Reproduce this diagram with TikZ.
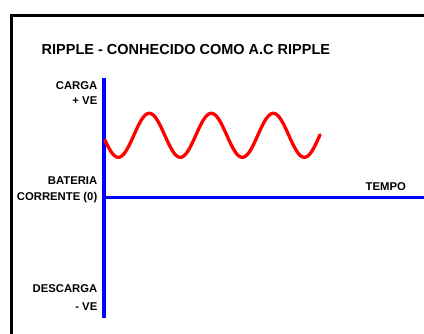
\documentclass[tikz,border=0pt]{standalone}
\usepackage{fontspec}
\setmainfont{Liberation Sans}
\begin{document}
\begin{tikzpicture}[x=1pt,y=-1pt,
  lbl/.style={font=\fontsize{11.3}{13}\selectfont\bfseries, inner sep=0pt, anchor=east},
  ttl/.style={font=\fontsize{14.5}{16}\selectfont\bfseries, inner sep=0pt, anchor=west},
  axis/.style={draw={rgb,255:red,0;green,0;blue,255}, line width=4pt},
  frame/.style={draw=black, line width=3pt},
  wave/.style={draw={rgb,255:red,255;green,0;blue,0}, line width=3.3pt, line cap=round}]
\useasboundingbox (0,0) rectangle (424,333);
% frame
\coordinate (fbl) at (11.5,340);
\coordinate (ftl) at (11.5,15.3);
\coordinate (ftr) at (430,15.3);
\draw[frame] (fbl) -- (ftl) -- (ftr);
% axes
\coordinate (vtop) at (104,78);
\coordinate (vbot) at (104,318);
\coordinate (h0) at (104,197.5);
\coordinate (hend) at (426,197.5);
\draw[axis] (vtop) -- (vbot);
\draw[axis, line width=3.7pt] (h0) -- (hend);
% title
\node[ttl] (title) at (41.5,50) {RIPPLE - CONHECIDO COMO A.C RIPPLE};
% labels
\node[lbl] (carga) at (97.5,86) {CARGA};
\node[lbl] (pve) at (97.5,100.5) {+ VE};
\node[lbl] (bat) at (97.5,180.3) {BATERIA};
\node[lbl] (corr) at (97.5,197.5) {CORRENTE (0)};
\node[lbl] (desc) at (97.5,288.5) {DESCARGA};
\node[lbl] (mve) at (97.5,306.8) {- VE};
\node[lbl, anchor=west] (tempo) at (365.5,186.7) {TEMPO};
% ripple
\draw[wave] plot[domain=105:320, samples=220, smooth] (\x, {135.3 - 22*cos((\x-149.3)*5.80645)});
\end{tikzpicture}
\end{document}
